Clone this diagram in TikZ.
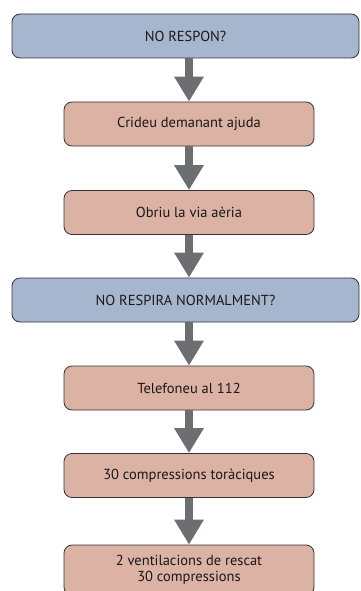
\documentclass[tikz,border=0pt]{standalone}
\usepackage{fontspec}
\setmainfont{PT Sans}
\usetikzlibrary{arrows.meta}

\definecolor{askblue}{HTML}{A6B6CF}
\definecolor{actpink}{HTML}{DCB2A4}
\definecolor{flowgray}{HTML}{6D6E71}

\tikzset{
  box/.style={draw=black!80, line width=0.8pt, rounded corners=8pt,
    minimum height=44pt, inner sep=0pt, align=center, text=black!90,
    font=\fontsize{14.5}{15.5}\selectfont},
  ask/.style={box, fill=askblue, minimum width=347pt},
  act/.style={box, fill=actpink, minimum width=250pt},
  flow/.style={draw=flowgray, line width=8pt,
    -{Triangle[width=28pt,length=25pt]}}
}

\begin{document}
\begin{tikzpicture}[x=1pt,y=1pt]

  \useasboundingbox (0,0) rectangle (360,-591);
  \clip (0,0) rectangle (360,-591);

  \node[ask] (noresp) at (185.5,-36) {NO RESPON?};
  \node[act] (crid) at (189,-124) {Crideu demanant ajuda};
  \node[act] (via) at (189,-212.5) {Obriu la via aèria};
  \node[ask] (norespira) at (185.5,-300) {NO RESPIRA NORMALMENT?};
  \node[act] (tel) at (189,-388) {Telefoneu al 112};
  \node[act] (comp) at (189,-475.5) {30 compressions toràciques};
  \node[act, minimum height=50pt] (vent) at (189,-570) {2 ventilacions de rescat\\30 compressions};

  \draw[flow] (noresp.south -| crid.north) -- (crid.north);
  \draw[flow] (crid) -- (via);
  \draw[flow] (via) -- (norespira.north -| via.south);
  \draw[flow] (norespira.south -| tel.north) -- (tel.north);
  \draw[flow] (tel) -- (comp);
  \draw[flow] (comp) -- (vent);

\end{tikzpicture}
\end{document}
